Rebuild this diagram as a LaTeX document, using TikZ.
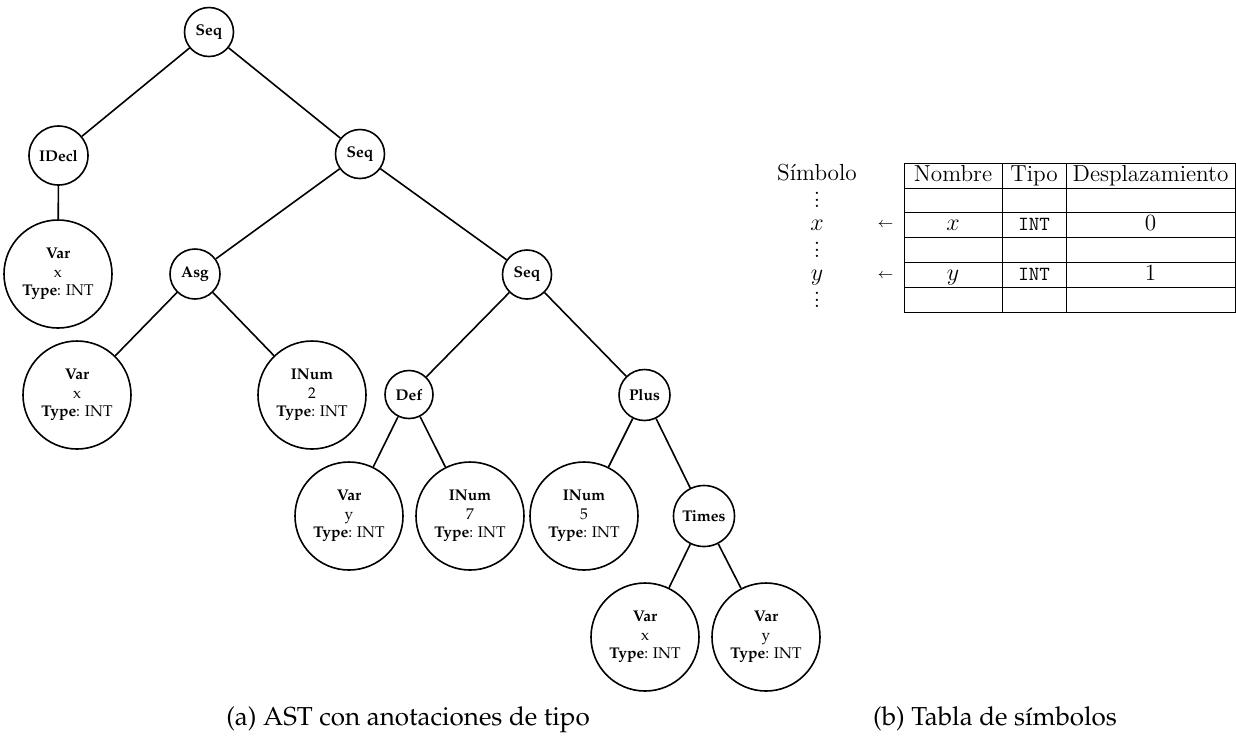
\documentclass[tikz,border=0pt]{standalone}
\usepackage[T1,TU]{fontenc}

% Palatino (Type 1) for the tree and the captions
\newcommand\palnode{\fontencoding{T1}\fontfamily{ppl}\fontsize{7.75}{9.25}\selectfont}
\newcommand\palcap{\fontencoding{T1}\fontfamily{ppl}\fontsize{13}{15}\selectfont}
% Latin Modern for the symbol table
\newcommand\tabfont{\fontsize{11.6}{14}\selectfont}
\newcommand\tabtt{\ttfamily\fontsize{10}{12}\selectfont}
\newcommand\arrfont{\fontsize{7.5}{9}\selectfont}
\newcommand\vdotsc{\vbox{\baselineskip=3.4pt\lineskiplimit=0pt\hbox{.}\hbox{.}\hbox{.}}}

\begin{document}
\begin{tikzpicture}[x=0.5pt, y=-0.5pt,
  astnode/.style={circle, draw, line width=0.8pt, inner sep=0pt, align=center, font=\palnode},
  opnode/.style={astnode, minimum size=24.5pt},
  leafnode/.style={astnode, minimum size=54pt},
  branch/.style={line width=0.8pt},
  grid/.style={line width=0.5pt},
  celltext/.style={anchor=base, inner sep=0pt, font=\tabfont},
  dotstext/.style={inner sep=0pt, font=\tabfont},
  captext/.style={anchor=base, inner sep=0pt, font=\palcap}]

\useasboundingbox (0,0) rectangle (1236,736);

% ---------- abstract syntax tree ----------
\node[opnode] (seqA) at (209,32) {\textbf{Seq}};
\node[opnode, minimum size=29.5pt] (idecl) at (58.5,155.5) {\textbf{IDecl}};
\node[opnode] (seqB) at (360,154) {\textbf{Seq}};
\node[leafnode] (varA) at (58,274) {\textbf{Var}\\x\\\textbf{Type}: INT};
\node[opnode, minimum size=25pt] (asg) at (195,274) {\textbf{Asg}};
\node[opnode] (seqC) at (527,274.5) {\textbf{Seq}};
\node[leafnode] (varB) at (77,395) {\textbf{Var}\\x\\\textbf{Type}: INT};
\node[leafnode] (inumA) at (312,395) {\textbf{INum}\\2\\\textbf{Type}: INT};
\node[opnode, minimum size=24pt] (def) at (409,394.5) {\textbf{Def}};
\node[opnode, minimum size=25.5pt] (plus) at (644.5,395) {\textbf{Plus}};
\node[leafnode] (varC) at (349,516) {\textbf{Var}\\y\\\textbf{Type}: INT};
\node[leafnode] (inumB) at (470,516) {\textbf{INum}\\7\\\textbf{Type}: INT};
\node[leafnode] (inumC) at (584,516) {\textbf{INum}\\5\\\textbf{Type}: INT};
\node[opnode, minimum size=30.5pt] (times) at (704,516) {\textbf{Times}};
\node[leafnode] (varD) at (645,637) {\textbf{Var}\\x\\\textbf{Type}: INT};
\node[leafnode] (varE) at (766,637) {\textbf{Var}\\y\\\textbf{Type}: INT};

\draw[branch] (seqA) -- (idecl);
\draw[branch] (seqA) -- (seqB);
\draw[branch] (idecl) -- (varA);
\draw[branch] (seqB) -- (asg);
\draw[branch] (seqB) -- (seqC);
\draw[branch] (asg) -- (varB);
\draw[branch] (asg) -- (inumA);
\draw[branch] (seqC) -- (def);
\draw[branch] (seqC) -- (plus);
\draw[branch] (def) -- (varC);
\draw[branch] (def) -- (inumB);
\draw[branch] (plus) -- (inumC);
\draw[branch] (plus) -- (times);
\draw[branch] (times) -- (varD);
\draw[branch] (times) -- (varE);

% ---------- symbol table ----------
\draw[grid] (904,163) rectangle (1235,312.5);
\foreach \yy in {188,212.5,237,262,287} \draw[grid] (904,\yy) -- (1235,\yy);
\foreach \xx in {1002,1066} \draw[grid] (\xx,163) -- (\xx,312.5);

\node[celltext] (hname) at (953,181.5) {Nombre};
\node[celltext] (htype) at (1034,181.5) {Tipo};
\node[celltext] (hoff)  at (1150.5,181.5) {Desplazamiento};
\node[celltext] (nx) at (953,230.5) {$x$};
\node[celltext, font=\tabtt] (tx) at (1034,230.5) {INT};
\node[celltext] (ox) at (1150.5,230.5) {0};
\node[celltext] (ny) at (953,280.5) {$y$};
\node[celltext, font=\tabtt] (ty) at (1034,280.5) {INT};
\node[celltext] (oy) at (1150.5,280.5) {1};

% symbol column with its pointers into the table
\node[celltext] (symh) at (817,180.5) {Símbolo};
\node[dotstext] (dotsA) at (817,200) {\vdotsc};
\node[celltext] (symx) at (817,230) {$x$};
\node[dotstext] (dotsB) at (817,250) {\vdotsc};
\node[celltext] (symy) at (817,280) {$y$};
\node[dotstext] (dotsC) at (817,300) {\vdotsc};
\node[inner sep=0pt, font=\arrfont] (arrx) at (885.5,225) {$\leftarrow$};
\node[inner sep=0pt, font=\arrfont] (arry) at (885.5,275.5) {$\leftarrow$};

% ---------- captions ----------
\node[captext] (capa) at (408,725) {(a) AST con anotaciones de tipo};
\node[captext] (capb) at (995,725) {(b) Tabla de s\'{\i}mbolos};
\end{tikzpicture}
\end{document}
